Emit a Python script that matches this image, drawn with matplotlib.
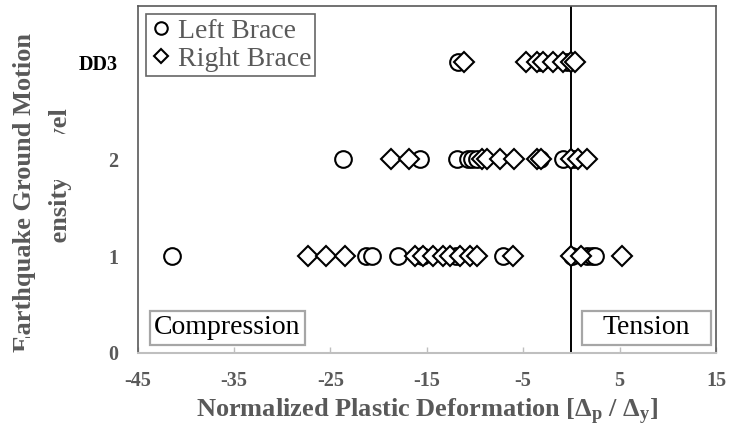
import numpy as np
import matplotlib
matplotlib.use("Agg")
import matplotlib.pyplot as plt
from matplotlib.patches import Rectangle

# normalized plastic deformation per intensity level (1, 2, DD3 -> 3)
left_lvl1 = [-41.4, -21.3, -20.7, -18.0, -15.5, -12.0, -7.1, 0.1, 1.6, 2.1, 2.4]
right_lvl1 = [-27.3, -25.4, -23.5, -16.2, -15.4, -14.4, -13.3, -12.6, -11.6,
              -10.5, -9.8, -6.1, 0.0, 1.0, 5.3]
left_lvl2 = [-23.7, -15.7, -11.9, -10.7, -10.3, -9.8, -3.3, -0.9, 0.3]
right_lvl2 = [-18.7, -16.8, -9.3, -8.8, -7.4, -5.9, -3.6, -3.1, 0.0, 0.7, 1.6]
left_dd3 = [-11.75, -3.3, -0.5]
right_dd3 = [-11.1, -4.7, -3.6, -2.9, -1.9, -0.9, 0.0, 0.35]

ytick_vals = [0, 1, 2, 3]
ytick_labels = ["0", "1", "2", "DD3"]
xtick_vals = [-45, -35, -25, -15, -5, 5, 15]

grey = "#595959"
plt.rcParams['font.family'] = ['Liberation Serif', 'DejaVu Serif']

fig = plt.figure(figsize=(7.3, 4.3), dpi=100)
ax = fig.add_axes([137.5 / 730, 1 - 353 / 430, (716 - 137.5) / 730, (353 - 6) / 430])

left_x = left_lvl1 + left_lvl2 + left_dd3
left_y = [1] * len(left_lvl1) + [2] * len(left_lvl2) + [3] * len(left_dd3)
right_x = right_lvl1 + right_lvl2 + right_dd3
right_y = [1] * len(right_lvl1) + [2] * len(right_lvl2) + [3] * len(right_dd3)

ax.plot(left_x, left_y, "o", ms=12, mfc="white", mec="black", mew=1.5,
        label="Left Brace", zorder=3)
ax.plot(right_x, right_y, "D", ms=10, mfc="white", mec="black", mew=1.5,
        label="Right Brace", zorder=4)

ax.axvline(0, color="black", lw=1.4, zorder=2)

ax.set_xlim(-45, 15)
ax.set_ylim(0, 3.58)
ax.set_xticks(xtick_vals)
ax.set_xticklabels([str(v) for v in xtick_vals], fontsize=14.5, fontweight="bold", color=grey)
ax.set_yticks(ytick_vals)
ax.set_yticklabels(ytick_labels, fontsize=14.5, fontweight="bold", color=grey)
ax.get_yticklabels()[-1].set_color("black")
ax.tick_params(axis="y", length=0, pad=14)
ax.tick_params(axis="x", direction="in", length=4.5, color="#bfbfbf", width=1, pad=13)

for s in ["top", "right", "left"]:
    ax.spines[s].set_color("#595959")
    ax.spines[s].set_linewidth(1.2)
ax.spines["bottom"].set_color("#bfbfbf")
ax.spines["bottom"].set_linewidth(1.5)

ax.set_xlabel(r"Normalized Plastic Deformation [$\mathregular{\Delta_p}$ / $\mathregular{\Delta_y}$]",
              fontsize=19, fontweight="bold", color=grey, labelpad=4)

fig.text(42.5 / 730, 1 - 192 / 430, "Earthquake Ground Motion\nIntensity Level",
         rotation=90, ha="center", va="center", multialignment="center",
         fontsize=19, fontweight="bold", color=grey, linespacing=1.7)

# white patches hiding parts of the axis title, as in the source image
for (x0, y0, x1, y1) in [(47, 243, 80, 292), (47, 134, 80, 180), (24, 338, 46, 375)]:
    fig.patches.append(Rectangle((x0 / 730, 1 - y1 / 430), (x1 - x0) / 730, (y1 - y0) / 430,
                                 transform=fig.transFigure, fc="white", ec="none", zorder=10))

leg = ax.legend(loc="upper left", fontsize=20, frameon=True, fancybox=False,
                handlelength=0.8, handletextpad=0.2, labelspacing=0.1, markerscale=0.75,
                borderpad=0.15, borderaxespad=0.3, labelcolor=grey)
leg.get_frame().set_edgecolor("#404040")
leg.get_frame().set_linewidth(1.2)


def px_box(x0, x1, y0, y1, label):
    fx0 = (x0 - 137.5) / 578.5
    fx1 = (x1 - 137.5) / 578.5
    fy0 = (353 - y1) / 347
    fy1 = (353 - y0) / 347
    ax.add_patch(Rectangle((fx0, fy0), fx1 - fx0, fy1 - fy0, transform=ax.transAxes,
                           fc="white", ec="#a6a6a6", lw=1.6, zorder=5))
    ax.text((fx0 + fx1) / 2, (fy0 + fy1) / 2, label, transform=ax.transAxes,
            fontsize=20, ha="center", va="center", zorder=6)


px_box(150, 305, 311, 345, "Compression")
px_box(582, 711, 311, 345, "Tension")

fig.savefig("out.png", dpi=100)
